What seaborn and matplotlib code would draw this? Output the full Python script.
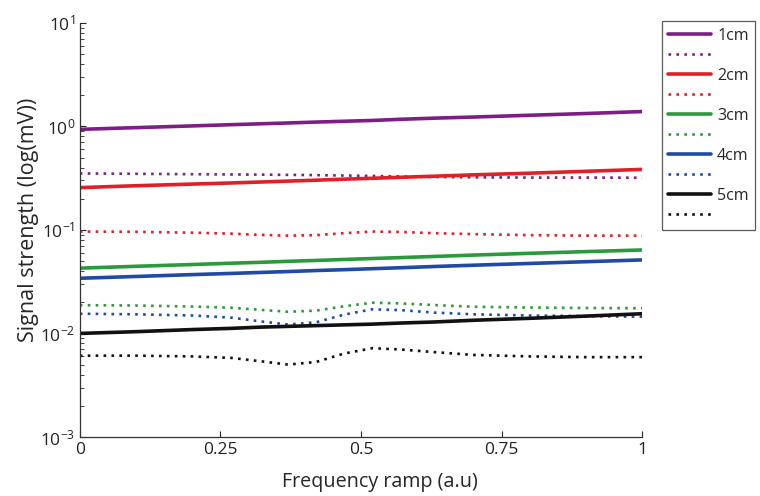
import numpy as np
import pandas as pd
import matplotlib
matplotlib.use("Agg")
import matplotlib.pyplot as plt
from matplotlib.lines import Line2D
import seaborn as sns

# Sample positions along the frequency ramp
ramp = [0, 0.1, 0.2, 0.27, 0.32, 0.37, 0.42, 0.47, 0.52, 0.57, 0.63, 0.7, 0.8, 0.9, 1.0]

distances = ["1cm", "2cm", "3cm", "4cm", "5cm"]

# Solid traces (signal, mV)
solid_1cm = [0.935, 0.972, 1.01, 1.038, 1.058, 1.078, 1.10, 1.12, 1.14, 1.17, 1.20, 1.23, 1.28, 1.33, 1.39]
solid_2cm = [0.256, 0.267, 0.277, 0.284, 0.290, 0.296, 0.302, 0.309, 0.315, 0.322, 0.330, 0.340, 0.353, 0.368, 0.384]
solid_3cm = [0.0427, 0.0445, 0.0463, 0.0477, 0.0486, 0.0497, 0.0507, 0.0518, 0.0529, 0.054, 0.0554, 0.0571, 0.0594, 0.0617, 0.064]
solid_4cm = [0.0341, 0.0355, 0.037, 0.038, 0.0388, 0.0396, 0.0405, 0.0413, 0.0422, 0.0431, 0.0443, 0.0456, 0.0474, 0.0493, 0.0513]
solid_5cm = [0.0100, 0.0104, 0.0109, 0.0112, 0.0115, 0.0117, 0.0119, 0.0121, 0.0123, 0.0126, 0.0129, 0.0134, 0.0140, 0.0147, 0.0155]

# Dotted traces (signal, mV)
dotted_1cm = [0.351, 0.348, 0.345, 0.343, 0.342, 0.340, 0.338, 0.335, 0.332, 0.328, 0.324, 0.322, 0.320, 0.320, 0.319]
dotted_2cm = [0.0964, 0.0958, 0.094, 0.092, 0.0895, 0.088, 0.089, 0.093, 0.0964, 0.0955, 0.093, 0.091, 0.089, 0.088, 0.088]
dotted_3cm = [0.01875, 0.0186, 0.0182, 0.0177, 0.0169, 0.0162, 0.0166, 0.0183, 0.0198, 0.0195, 0.0188, 0.0181, 0.0178, 0.0176, 0.0175]
dotted_4cm = [0.0155, 0.0153, 0.0149, 0.0142, 0.0131, 0.0122, 0.0128, 0.0152, 0.0171, 0.0168, 0.0159, 0.0153, 0.0149, 0.0147, 0.0145]
dotted_5cm = [0.0061, 0.0061, 0.0060, 0.0058, 0.0054, 0.0050, 0.0053, 0.0064, 0.0072, 0.0070, 0.0066, 0.0062, 0.0060, 0.0059, 0.0059]

solid = [solid_1cm, solid_2cm, solid_3cm, solid_4cm, solid_5cm]
dotted = [dotted_1cm, dotted_2cm, dotted_3cm, dotted_4cm, dotted_5cm]
colors = ["#7d1e86", "#e01f26", "#2b9a3c", "#1f4aa6", "#111111"]

sns.set_style("ticks")
plt.rcParams["font.family"] = ["Open Sans", "DejaVu Sans"]
plt.rcParams["xtick.direction"] = "in"
plt.rcParams["ytick.direction"] = "in"

fig = plt.figure(figsize=(7.6, 4.96), dpi=100)
ax = fig.add_axes([0.105, 0.119, 0.74, 0.835])

dot_style = (0, (1, 2))
handles, labels = [], []
for name, s, d, c in zip(distances, solid, dotted, colors):
    df_s = pd.DataFrame({"ramp": ramp, "signal": s})
    df_d = pd.DataFrame({"ramp": ramp, "signal": d})
    sns.lineplot(data=df_s, x="ramp", y="signal", ax=ax, color=c, lw=2.6,
                 estimator=None, sort=False)
    sns.lineplot(data=df_d, x="ramp", y="signal", ax=ax, color=c, lw=1.9,
                 linestyle=dot_style, estimator=None, sort=False)
    handles.append(Line2D([], [], color=c, lw=2.6))
    labels.append(name)
    handles.append(Line2D([], [], color=c, lw=1.9, linestyle=dot_style))
    labels.append("")

ax.set_yscale("log")
ax.set_ylim(1e-3, 1e1)
ax.set_xlim(0, 1)
ax.set_xticks([0, 0.25, 0.5, 0.75, 1])
ax.set_xticklabels(["0", "0.25", "0.5", "0.75", "1"])
ax.tick_params(axis="both", labelsize=12.5, colors="#222222", length=4.5)
ax.tick_params(axis="y", which="minor", length=3)
ax.set_xlabel("Frequency ramp (a.u)", fontsize=14.2, labelpad=4)
ax.set_ylabel("Signal strength (log(mV))", fontsize=15.5, labelpad=4)
ax.xaxis.set_label_coords(0.534, -0.085)
ax.yaxis.set_label_coords(-0.072, 0.525)
sns.despine(ax=ax)
for sp in ax.spines.values():
    sp.set_color("#333333")
    sp.set_linewidth(0.9)

leg = fig.legend(handles, labels, loc="upper left", bbox_to_anchor=(0.871, 0.957),
                 frameon=True, fancybox=False, edgecolor="#333333",
                 fontsize=11.5, handlelength=2.7, labelspacing=0.25,
                 borderpad=0.4, handletextpad=0.35, borderaxespad=0)
leg.get_frame().set_linewidth(0.9)

fig.savefig("out.png", dpi=100)
